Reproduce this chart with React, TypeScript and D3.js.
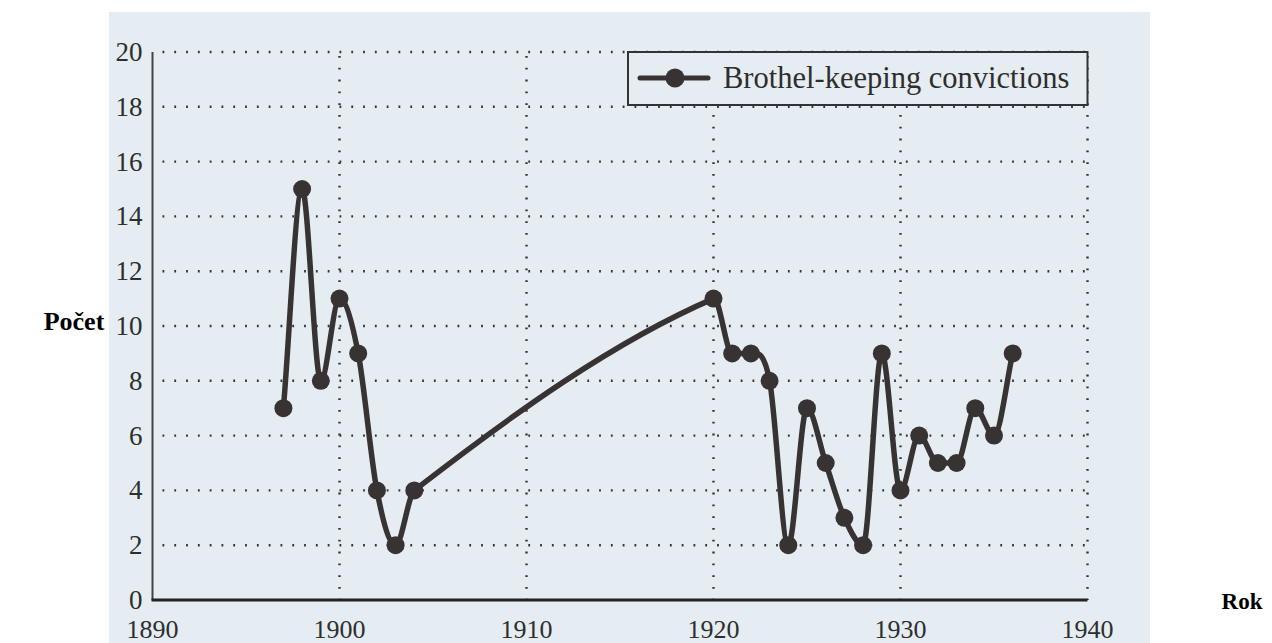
import React, { useEffect, useRef } from 'react';
import * as d3 from 'd3';

// data
const years = [1897, 1898, 1899, 1900, 1901, 1902, 1903, 1904, 1920, 1921, 1922, 1923, 1924, 1925, 1926, 1927, 1928, 1929, 1930, 1931, 1932, 1933, 1934, 1935, 1936];
const convictions = [7, 15, 8, 11, 9, 4, 2, 4, 11, 9, 9, 8, 2, 7, 5, 3, 2, 9, 4, 6, 5, 5, 7, 6, 9];
const xTicks = [1890, 1900, 1910, 1920, 1930, 1940];
const yTicks = [0, 2, 4, 6, 8, 10, 12, 14, 16, 18, 20];
const seriesName = 'Brothel-keeping convictions';
const xTitle = 'Rok';
const yTitle = 'Počet';

// spreadsheet-style smoothing: cubic Hermite in x, slope from the two neighbours,
// flattened at peaks/troughs where the spacing is regular
const smoothPath = (pts: [number, number][]) => {
  const n = pts.length;
  const slope = (i: number) => {
    const a = pts[Math.max(i - 1, 0)];
    const c = pts[i];
    const b = pts[Math.min(i + 1, n - 1)];
    if (i > 0 && i < n - 1) {
      const h0 = c[0] - a[0];
      const h1 = b[0] - c[0];
      const regular = Math.max(h0, h1) / Math.min(h0, h1) < 2;
      if (regular && (c[1] - a[1]) * (b[1] - c[1]) <= 0) return 0;
    }
    return (b[1] - a[1]) / (b[0] - a[0]);
  };
  const p = d3.path();
  p.moveTo(pts[0][0], pts[0][1]);
  for (let i = 0; i < n - 1; i++) {
    const a = pts[i];
    const b = pts[i + 1];
    const h = (b[0] - a[0]) / 3;
    p.bezierCurveTo(a[0] + h, a[1] + slope(i) * h, b[0] - h, b[1] - slope(i + 1) * h, b[0], b[1]);
  }
  return p.toString();
};

const App = () => {
  const chartRef = useRef<HTMLDivElement>(null);

  useEffect(() => {
    const width = 1272;
    const height = 643;
    const ink = '#383333';
    const paper = '#e5edf2';
    const serif = '"Liberation Serif", "Times New Roman", serif';

    d3.select(chartRef.current).selectAll('*').remove();

    const svg = d3.select(chartRef.current)
      .append('svg')
      .attr('width', width)
      .attr('height', height)
      .style('display', 'block');

    svg.append('rect').attr('width', width).attr('height', height).attr('fill', '#ffffff');
    // scanned page area
    svg.append('rect')
      .attr('x', 109).attr('y', 12)
      .attr('width', 1150 - 109).attr('height', height - 12)
      .attr('fill', paper);

    const x = d3.scaleLinear().domain([1890, 1940]).range([152.5, 1087.5]);
    const y = d3.scaleLinear().domain([0, 20]).range([600, 52]);

    // dotted grid
    const grid = svg.append('g').attr('stroke', '#333').attr('stroke-width', 2.4)
      .attr('stroke-dasharray', '1.8 10');
    grid.selectAll('line.h')
      .data(yTicks.filter(d => d > 0))
      .enter()
      .append('line')
      .attr('class', 'h')
      .attr('x1', x(1890) + 10).attr('x2', x(1940))
      .attr('y1', d => y(d)).attr('y2', d => y(d));
    grid.selectAll('line.v')
      .data(xTicks.filter(d => d > 1890))
      .enter()
      .append('line')
      .attr('class', 'v')
      .attr('x1', d => x(d)).attr('x2', d => x(d))
      .attr('y1', y(20) + 4).attr('y2', y(0));

    // axes
    svg.append('line')
      .attr('x1', x(1890)).attr('x2', x(1890))
      .attr('y1', y(20)).attr('y2', y(0))
      .attr('stroke', '#444').attr('stroke-width', 2);
    svg.append('line')
      .attr('x1', x(1890) - 1).attr('x2', x(1940))
      .attr('y1', y(0)).attr('y2', y(0))
      .attr('stroke', '#222').attr('stroke-width', 3);

    // tick labels
    svg.append('g')
      .selectAll('text')
      .data(yTicks)
      .enter()
      .append('text')
      .attr('x', x(1890) - 10)
      .attr('y', d => y(d) + 9)
      .attr('text-anchor', 'end')
      .attr('font-family', serif)
      .attr('font-size', 27)
      .attr('fill', '#2e2e2e')
      .text(d => d);
    svg.append('g')
      .selectAll('text')
      .data(xTicks)
      .enter()
      .append('text')
      .attr('x', d => x(d))
      .attr('y', 637.5)
      .attr('text-anchor', 'middle')
      .attr('font-family', serif)
      .attr('font-size', 26)
      .attr('fill', '#2e2e2e')
      .text(d => d);

    // axis titles
    svg.append('text')
      .attr('x', 74).attr('y', 330)
      .attr('text-anchor', 'middle')
      .attr('font-family', serif)
      .attr('font-weight', 'bold')
      .attr('font-size', 26)
      .attr('fill', '#000')
      .text(yTitle);
    svg.append('text')
      .attr('x', 1242).attr('y', 609)
      .attr('text-anchor', 'middle')
      .attr('font-family', serif)
      .attr('font-weight', 'bold')
      .attr('font-size', 23)
      .attr('fill', '#000')
      .text(xTitle);

    // smoothed series
    const data = years.map((yr, i) => ({ year: yr, value: convictions[i] }));
    const pts = data.map(d => [x(d.year), y(d.value)] as [number, number]);

    svg.append('path')
      .attr('fill', 'none')
      .attr('stroke', ink)
      .attr('stroke-width', 5.5)
      .attr('stroke-linejoin', 'round')
      .attr('d', smoothPath(pts));

    svg.append('g')
      .selectAll('circle')
      .data(data)
      .enter()
      .append('circle')
      .attr('cx', d => x(d.year))
      .attr('cy', d => y(d.value))
      .attr('r', 9)
      .attr('fill', ink);

    // legend
    const legend = svg.append('g');
    legend.append('rect')
      .attr('x', 628).attr('y', y(20))
      .attr('width', x(1940) - 628).attr('height', 53)
      .attr('fill', paper)
      .attr('stroke', '#333')
      .attr('stroke-width', 2);
    legend.append('line')
      .attr('x1', 640).attr('x2', 708)
      .attr('y1', 78).attr('y2', 78)
      .attr('stroke', ink).attr('stroke-width', 5).attr('stroke-linecap', 'round');
    legend.append('circle')
      .attr('cx', 675).attr('cy', 78).attr('r', 9.5)
      .attr('fill', ink);
    legend.append('text')
      .attr('x', 723).attr('y', 88)
      .attr('font-family', serif)
      .attr('font-size', 30.5)
      .attr('fill', '#2e2e2e')
      .text(seriesName);
  }, []);

  return (
    <div ref={chartRef} style={{ position: 'absolute', left: 0, top: 0, width: '1272px', height: '643px' }}></div>
  );
};

export default App;
